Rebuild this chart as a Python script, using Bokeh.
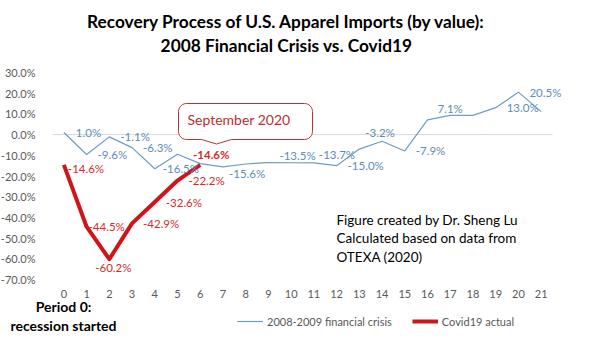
import math
from bokeh.plotting import figure
from bokeh.models import (ColumnDataSource, FixedTicker, PrintfTickFormatter,
                          Label, PolyAnnotation, Legend, LegendItem, Range1d)
from bokeh.embed import file_html
from bokeh.resources import INLINE
from bokeh.core.properties import value

# ---------------- data ----------------
periods = list(range(22))
financial_crisis = [1.0, -9.6, -1.1, -6.3, -16.5, -9.5, -14.0, -15.6, -14.2, -13.5, -13.6,
                    -13.7, -15.0, -7.0, -3.2, -7.9, 7.1, 9.3, 9.3, 13.0, 20.5, 11.1]
covid_periods = [0, 1, 2, 3, 4, 5, 6]
covid_actual = [-14.6, -44.5, -60.2, -42.9, -32.6, -22.2, -14.6]
fin_labelled = [0, 1, 2, 3, 4, 7, 9, 11, 12, 14, 15, 16, 19, 20]
y_ticks = [30, 20, 10, 0, -10, -20, -30, -40, -50, -60, -70]

title_lines = ["Recovery Process of U.S. Apparel Imports (by value):",
               "2008 Financial Crisis vs. Covid19"]
note_lines = ["Figure created by Dr. Sheng Lu", "Calculated based on data from", "OTEXA (2020)"]
period_note = ["Period 0:", "recession started"]
callout_text = "September 2020"
series_names = ["2008-2009 financial crisis", "Covid19 actual"]

# ---------------- styles / layout ----------------
FONT = "Lato"
BLUE = "#6f9cc6"
BLUE_TXT = "#5d8cb8"
RED = "#cf1519"
RED_TXT = "#d42b2b"
GRAY = "#595959"
W, H = 594, 349
AREA_LEFT, AREA_W = 52, 500        # plot-area pixels (category axis)
AREA_TOP, AREA_H = 72, 207         # plot-area pixels (value axis)
CAT_PX = AREA_W / len(periods)
VAL_PX = AREA_H / (max(y_ticks) - min(y_ticks))

fin_style = {0: (12, 0, "left"), 4: (8, 0, "left"), 7: (6, 7, "left"), 9: (11, -7, "left"),
             11: (5, -8, "left"), 14: (-2, -9, "center"), 16: (10, -11, "left")}
cov_style = {0: (4, 4, "left"), 1: (2, 0, "left"), 2: (4, 8, "center"), 6: (11, -10, "center")}


def sy(py):
    # canvas pixel (from top) -> screen units (from bottom)
    return H - py


# the frame covers the whole canvas; the axes are pinned to the plot-area edges
x0 = -0.5 - AREA_LEFT / CAT_PX
x1 = -0.5 + (W - AREA_LEFT) / CAT_PX
y1 = max(y_ticks) + AREA_TOP / VAL_PX
y0 = min(y_ticks) - (H - AREA_TOP - AREA_H) / VAL_PX

p = figure(width=W, height=H, output_backend="svg", toolbar_location=None,
           x_range=Range1d(x0, x1), y_range=Range1d(y0, y1), min_border=0)
p.outline_line_color = None
p.xgrid.visible = False
p.ygrid.visible = False
p.background_fill_color = "white"
p.border_fill_color = "white"

for ax in (p.xaxis, p.yaxis):
    ax.axis_line_color = None
    ax.major_tick_line_color = None
    ax.minor_tick_line_color = None
    ax.major_label_text_color = GRAY
    ax.major_label_text_font = FONT
    ax.major_label_text_font_size = "11px"
p.yaxis.ticker = FixedTicker(ticks=y_ticks)
p.yaxis.formatter = PrintfTickFormatter(format="%.1f%%")
p.yaxis.major_label_standoff = 11
p.yaxis.fixed_location = periods[0] - 0.5
p.xaxis.ticker = FixedTicker(ticks=periods)
p.xaxis.major_label_standoff = 4
p.xaxis.fixed_location = min(y_ticks)

# zero line across the category area
p.segment(x0=[periods[0] - 0.5], x1=[periods[-1] + 0.5], y0=[0], y1=[0],
          line_color="#d9d9d9", line_width=1, level="underlay")

fin_src = ColumnDataSource(dict(x=periods, y=financial_crisis))
cov_src = ColumnDataSource(dict(x=covid_periods, y=covid_actual))
r_fin = p.line("x", "y", source=fin_src, line_color=BLUE, line_width=1.2)
r_cov = p.line("x", "y", source=cov_src, line_color=RED, line_width=4, line_join="round")

fx, fy, ft, fdx, fdy, fal = [], [], [], [], [], []
for i in fin_labelled:
    v = financial_crisis[i]
    dx, dy, al = fin_style.get(i, (11, 0, "left"))
    fx.append(periods[i]); fy.append(v); ft.append(f"{v:.1f}%")
    fdx.append(dx); fdy.append(dy); fal.append(al)
p.text(x="x", y="y", text="t", x_offset="dx", y_offset="dy", text_align="al",
       source=ColumnDataSource(dict(x=fx, y=fy, t=ft, dx=fdx, dy=fdy, al=fal)),
       text_baseline="middle", text_color=BLUE_TXT, text_font=value(FONT), text_font_size="11.5px")

cx_, cy_, ct, cdx, cdy, cal, cw = [], [], [], [], [], [], []
for i, v in zip(covid_periods, covid_actual):
    dx, dy, al = cov_style.get(i, (11, 0, "left"))
    cx_.append(i); cy_.append(v); ct.append(f"{v:.1f}%")
    cdx.append(dx); cdy.append(dy); cal.append(al)
    cw.append("bold" if i == covid_periods[-1] else "normal")
p.text(x="x", y="y", text="t", x_offset="dx", y_offset="dy", text_align="al", text_font_style="fw",
       source=ColumnDataSource(dict(x=cx_, y=cy_, t=ct, dx=cdx, dy=cdy, al=cal, fw=cw)),
       text_baseline="middle", text_color=RED_TXT, text_font=value(FONT), text_font_size="11.5px")

# callout (rounded box with a shallow pointer)
bx0, bx1, by0, by1, rad = 178, 312, 103, 139, 8
pts = []


def arc(cxp, cyp, a0, a1):
    for k in range(7):
        a = math.radians(a0 + (a1 - a0) * k / 6)
        pts.append((cxp + rad * math.cos(a), cyp + rad * math.sin(a)))


arc(bx0 + rad, by0 + rad, 180, 270)
arc(bx1 - rad, by0 + rad, 270, 360)
arc(bx1 - rad, by1 - rad, 0, 90)
pts += [(231, by1), (216, 143.5), (201, by1)]
arc(bx0 + rad, by1 - rad, 90, 180)
p.add_layout(PolyAnnotation(xs=[a for a, b in pts], ys=[sy(b) for a, b in pts],
                            xs_units="screen", ys_units="screen",
                            fill_color="white", fill_alpha=1, line_color="#b83232",
                            line_alpha=1, line_width=1))
p.add_layout(Label(x=187, y=sy(119), x_units="screen", y_units="screen", text=callout_text,
                   text_font=FONT, text_font_size="14px", text_color="#bf2d2d",
                   text_baseline="middle", text_align="left"))

# title
for k, t in enumerate(title_lines):
    p.add_layout(Label(x=286, y=sy(21 + 24 * k), x_units="screen", y_units="screen", text=t,
                       text_font=FONT, text_font_size="17.3px", text_font_style="bold",
                       text_color="black", text_align="center", text_baseline="middle"))

# source note
for k, t in enumerate(note_lines):
    p.add_layout(Label(x=336, y=sy(219 + 18.5 * k), x_units="screen", y_units="screen", text=t,
                       text_font=FONT, text_font_size="13.5px", text_color="black",
                       text_align="left", text_baseline="middle"))

# period note
for k, t in enumerate(period_note):
    p.add_layout(Label(x=63, y=sy(305.5 + 19.5 * k), x_units="screen", y_units="screen", text=t,
                       text_font=FONT, text_font_size="14px", text_font_style="bold",
                       text_color="black", text_align="center", text_baseline="middle"))

# legend
legend = Legend(items=[LegendItem(label=series_names[0], renderers=[r_fin]),
                       LegendItem(label=series_names[1], renderers=[r_cov])],
                location=(237, sy(331)), orientation="horizontal",
                glyph_width=26, glyph_height=20, label_standoff=4, spacing=20,
                padding=0, margin=0, border_line_color=None, background_fill_alpha=0,
                label_text_font=FONT, label_text_font_size="11px", label_text_color=GRAY)
p.add_layout(legend, "center")

open("out.html", "w").write(file_html(p, INLINE))
